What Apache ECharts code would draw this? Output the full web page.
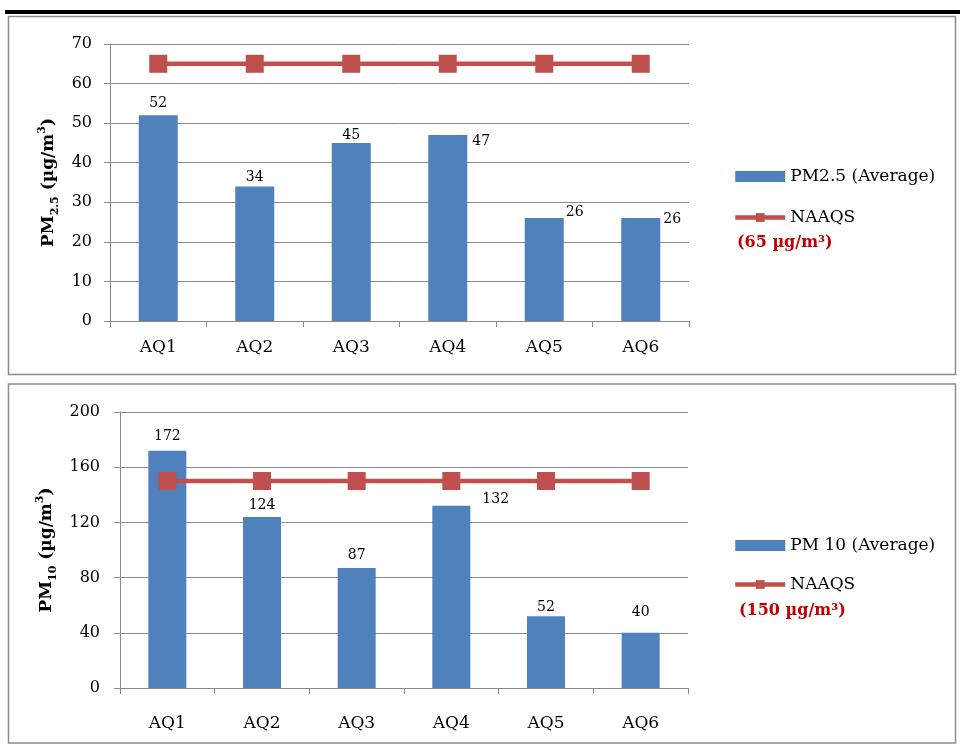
<!DOCTYPE html>
<html>
<head>
<meta charset="utf-8">
<script src="https://cdn.jsdelivr.net/npm/echarts@6/dist/echarts.min.js"></script>
<style>
html,body{margin:0;padding:0;background:#fff;}
#chart{width:960px;height:750px;}
</style>
</head>
<body>
<div id="chart"></div>
<script>
// ---- data ----
var categories = ['AQ1', 'AQ2', 'AQ3', 'AQ4', 'AQ5', 'AQ6'];
var pm25Values = [52, 34, 45, 47, 26, 26];
var pm25Standard = [65, 65, 65, 65, 65, 65];
var pm10Values = [172, 124, 87, 132, 52, 40];
var pm10Standard = [150, 150, 150, 150, 150, 150];
var pm25Ticks = [0, 10, 20, 30, 40, 50, 60, 70];
var pm10Ticks = [0, 40, 80, 120, 160, 200];
var pm25Name = 'PM2.5 (Average)';
var pm10Name = 'PM 10 (Average)';
var stdName = 'NAAQS';
var pm25StdNote = '(65 µg/m³)';
var pm10StdNote = '(150 µg/m³)';

// ---- styles ----
var FONT = 'DejaVu Serif';
var BAR = '#4F81BD';
var LINE = '#C0504D';
var GRID = '#8a8a8a';

function topLabel(d) { return { show: true, position: 'top', distance: d }; }
function sideLabel(dx, dy, va) {
  return { show: true, position: ['100%', 0], align: 'left', verticalAlign: va, offset: [dx, dy] };
}
var pm25LabelStyles = [topLabel(5), topLabel(2), topLabel(1), sideLabel(5, -1, 'top'), sideLabel(2, 1, 'bottom'), sideLabel(3, 1, 'middle')];
var pm10LabelStyles = [topLabel(7), topLabel(5), topLabel(6), sideLabel(12, 1, 'bottom'), topLabel(2), topLabel(13)];

function barData(vals, styles) {
  return vals.map(function (v, i) { return { value: v, label: styles[i] }; });
}

var nameRich = {
  m: { fontFamily: FONT, fontWeight: 'bold', fontSize: 17, lineHeight: 24, color: '#000' },
  sub: { fontFamily: FONT, fontWeight: 'bold', fontSize: 11, lineHeight: 24, verticalAlign: 'bottom', color: '#000' },
  sup: { fontFamily: FONT, fontWeight: 'bold', fontSize: 11, lineHeight: 22, verticalAlign: 'top', color: '#000' }
};

function yAxis(gridIndex, ticks, name, gap, margin) {
  return {
    type: 'value', gridIndex: gridIndex,
    min: ticks[0], max: ticks[ticks.length - 1], interval: ticks[1] - ticks[0],
    name: name, nameLocation: 'middle', nameRotate: 90, nameGap: gap,
    nameTextStyle: { rich: nameRich },
    axisLine: { show: true, lineStyle: { color: GRID, width: 1 } },
    axisTick: { show: true, length: 6, lineStyle: { color: GRID } },
    splitLine: { show: true, lineStyle: { color: GRID, width: 1 } },
    axisLabel: { fontFamily: FONT, fontSize: 16, color: '#000', margin: margin }
  };
}
function xAxis(gridIndex, margin) {
  return {
    type: 'category', gridIndex: gridIndex, data: categories,
    axisLine: { lineStyle: { color: GRID, width: 1 } },
    axisTick: { show: true, length: 6, alignWithLabel: false, lineStyle: { color: GRID } },
    axisLabel: { fontFamily: FONT, fontSize: 17, color: '#000', margin: margin }
  };
}

var legendText = { fontFamily: FONT, fontSize: 17, color: '#000' };

var option = {
  animation: false,
  backgroundColor: '#fff',
  grid: [
    { left: 110, right: 271, top: 44, bottom: 429 },
    { left: 120, right: 272, top: 412, bottom: 62 }
  ],
  xAxis: [xAxis(0, 18), xAxis(1, 27)],
  yAxis: [
    yAxis(0, pm25Ticks, '{m|PM}{sub|2.5}{m| (µg/m}{sup|3}{m|)}', 48, 18),
    yAxis(1, pm10Ticks, '{m|PM}{sub|10}{m| (µg/m}{sup|3}{m|)}', 58, 20)
  ],
  legend: [
    {
      orient: 'vertical', left: 728, top: 163, itemWidth: 50, itemHeight: 11, itemGap: 24,
      textStyle: legendText,
      data: [{ name: pm25Name, icon: 'rect' }, { name: stdName, lineStyle: { width: 4.5 } }]
    },
    {
      orient: 'vertical', left: 728, top: 532, itemWidth: 50, itemHeight: 11, itemGap: 22,
      textStyle: legendText,
      data: [{ name: pm10Name, icon: 'rect' }, { name: stdName, lineStyle: { width: 4.5 } }]
    }
  ],
  graphic: [
    { type: 'rect', shape: { x: 5, y: 10, width: 955, height: 4 }, style: { fill: '#000' }, silent: true },
    { type: 'rect', shape: { x: 8.5, y: 16.5, width: 947, height: 358 }, style: { fill: 'none', stroke: '#8c8c8c', lineWidth: 1.5 }, silent: true },
    { type: 'rect', shape: { x: 8.5, y: 384, width: 947, height: 359 }, style: { fill: 'none', stroke: '#8c8c8c', lineWidth: 1.5 }, silent: true },
    { type: 'text', left: 737, top: 235, style: { text: pm25StdNote, fontFamily: FONT, fontWeight: 'bold', fontSize: 16, fill: '#C00000' } },
    { type: 'text', left: 739, top: 603, style: { text: pm10StdNote, fontFamily: FONT, fontWeight: 'bold', fontSize: 16, fill: '#C00000' } }
  ],
  series: [
    {
      name: pm25Name, type: 'bar', xAxisIndex: 0, yAxisIndex: 0, barWidth: 39,
      itemStyle: { color: BAR },
      label: { fontFamily: FONT, fontSize: 14, color: '#000' },
      data: barData(pm25Values, pm25LabelStyles)
    },
    {
      name: stdName, type: 'line', xAxisIndex: 0, yAxisIndex: 0,
      symbol: 'rect', symbolSize: 18,
      lineStyle: { color: LINE, width: 4.5 }, itemStyle: { color: LINE },
      data: pm25Standard, z: 3
    },
    {
      name: pm10Name, type: 'bar', xAxisIndex: 1, yAxisIndex: 1, barWidth: 38,
      itemStyle: { color: BAR },
      label: { fontFamily: FONT, fontSize: 14, color: '#000' },
      data: barData(pm10Values, pm10LabelStyles)
    },
    {
      name: stdName, type: 'line', xAxisIndex: 1, yAxisIndex: 1,
      symbol: 'rect', symbolSize: 18,
      lineStyle: { color: LINE, width: 4.5 }, itemStyle: { color: LINE },
      data: pm10Standard, z: 3
    }
  ]
};

var chart = echarts.init(document.getElementById('chart'), null, { renderer: 'canvas' });
chart.setOption(option);
</script>
</body>
</html>
